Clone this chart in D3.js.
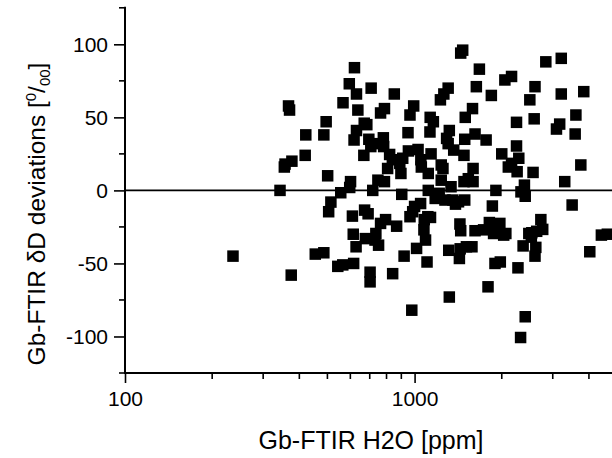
<!DOCTYPE html>
<html>
<head>
<meta charset="utf-8">
<script src="https://cdn.jsdelivr.net/npm/d3@7"></script>
<style>
  body { margin: 0; background: #fff; }
  svg { font-family: Arial, "Liberation Sans", sans-serif; }
</style>
</head>
<body>
<svg width="612" height="458"></svg>
<script>
// H2O [ppm] and deltaD deviation [permil]
const h2o = [236,343,367,370,375,355,357,377,419,421,454,486,495,486,501,514,505,543,565,566,
  556,597,595,620,630,637,601,610,614,628,616,618,630,670,684,668,672,691,695,676,
  702,702,708,717,747,735,751,763,787,780,782,787,794,807,820,840,851,867,897,903,
  889,920,949,952,964,993,978,964,1000,1016,1028,1051,1049,1077,1091,1104,1115,1080,1115,1132,
  1161,1130,1140,1135,1178,1216,1236,1236,1228,1262,1306,1290,1318,1336,1318,1312,1356,1365,1384,1443,
  1466,1443,1434,1428,1437,1481,1490,1496,1585,1592,1592,1481,1490,1578,1617,1634,1674,1617,1766,1841,
  1856,1793,1812,1909,1874,1895,1977,1970,2000,2050,2162,2066,2107,2162,2249,2249,2290,2260,2275,2323,
  2410,2330,2410,2395,2370,2500,2588,2605,2565,2480,2605,2622,2540,2729,2770,2839,3090,3170,3210,3210,
  3300,3500,3606,3585,3750,3839,4027,4416,4630,
  706,725,838,910,1055,1273,1418,1510,1731,1942,2031,2640,2530,1533,1111,985,1306,1253,763,730];
const dev = [-45,0,57.8,55,-58,16,18,20,24,38,-43.6,-42.7,47,38,10,-8,-14.6,-52,-51,60,
  -1.6,2,73,84,66,55,6,-17.6,-30,-38.6,-50,34.5,41,46,45,24,-13.5,-16,35,-33,
  -56,-62.6,70,0,7,-29.5,-37.5,53,56,36,30,6,-20,15,24.6,-57,66,-24.5,11.6,-2.7,
  18.5,-45,39.5,27,51.6,57.8,-82,-18,-11,-39.7,28,21,-9,-27,-34,-49,11.6,-20,0,50,
  47,40,25,-18.5,-5.5,-2,7,17.4,62,66,70,35.6,41,2.5,-73,-41,-6.6,27.6,-9.4,94,
  96,-27.6,-23,-46.6,-40,24,35,50,56,15,6,6,-6.6,-38.6,-27.6,71,83,38.6,34.5,65,
  -10.7,-66,-22,0,-29.5,-50,-49,-22.6,25,75.6,78,-29.5,16,18.5,46.6,30.4,22,12.8,-53,-100.7,
  -86.5,-1,-4,3.6,-38,62,49,71,12.3,-29.5,-45,-39,-29,-20,-26.7,88,42,45.4,90.4,66,
  6,-10,51.6,38.6,17.4,67.6,-42,-30.6,-30,
  30,32,21,22,16,-6.6,-7.8,-38.6,-27,-27,-30.6,-28,-32,8,-18,-14.6,32,15,-22.6,-34];

const xMajor = [100, 1000];
const xMinor = [200,300,400,500,600,700,800,900,2000,3000,4000];
const yMajor = [-100,-50,0,50,100];
const yMinor = [-125,-75,-25,25,75,125];

const data = h2o.map((v, i) => ({h2o: v, dev: dev[i]}));

const svg = d3.select("svg"),
      mLeft = 125, mRight = 617, mTop = 7.8, mBottom = 373;

const x = d3.scaleLog().domain([100, 5000]).range([mLeft, mRight]),
      y = d3.scaleLinear().domain([-125, 125]).range([mBottom, mTop]);

// zero line
svg.append("line")
    .attr("x1", mLeft).attr("x2", 612)
    .attr("y1", y(0)).attr("y2", y(0))
    .attr("stroke", "#000").attr("stroke-width", 1.6);

// points
const s = 11.5;
svg.selectAll(".pt")
  .data(data)
  .enter().append("rect")
    .attr("class", "pt")
    .attr("x", d => x(d.h2o) - s / 2)
    .attr("y", d => y(d.dev) - s / 2)
    .attr("width", s)
    .attr("height", s)
    .attr("fill", "#000");

// x axis
const gx = svg.append("g").attr("transform", `translate(0,${mBottom})`);
gx.call(d3.axisBottom(x).tickValues(xMajor).tickSize(10).tickPadding(8).tickFormat(d => String(d)));
gx.selectAll(".minor").data(xMinor).enter().append("line")
    .attr("class", "minor")
    .attr("x1", d => x(d)).attr("x2", d => x(d))
    .attr("y1", 0).attr("y2", 6)
    .attr("stroke", "#000").attr("stroke-width", 1.6);

// y axis
const gy = svg.append("g").attr("transform", `translate(${mLeft},0)`);
gy.call(d3.axisLeft(y).tickValues(yMajor).tickSize(11).tickPadding(6).tickFormat(d => String(d)));
gy.selectAll(".minor").data(yMinor).enter().append("line")
    .attr("class", "minor")
    .attr("x1", -6).attr("x2", 0)
    .attr("y1", d => y(d)).attr("y2", d => y(d))
    .attr("stroke", "#000").attr("stroke-width", 1.6);

gx.select(".domain").remove();
gy.select(".domain").remove();
svg.append("line").attr("x1", mLeft).attr("x2", 612).attr("y1", mBottom).attr("y2", mBottom)
    .attr("stroke", "#000").attr("stroke-width", 2);
svg.append("line").attr("x1", mLeft).attr("x2", mLeft).attr("y1", mTop - 1).attr("y2", mBottom + 1)
    .attr("stroke", "#000").attr("stroke-width", 2);

svg.selectAll(".tick line").attr("stroke-width", 1.6);
svg.selectAll(".tick text")
    .style("font-size", "21px")
    .style("font-family", "Arial, 'Liberation Sans', sans-serif")
    .attr("fill", "#000");

// axis titles
svg.append("text")
    .attr("x", 371).attr("y", 449)
    .attr("text-anchor", "middle")
    .style("font-size", "25px")
    .text("Gb-FTIR H2O [ppm]");

const yt = svg.append("text")
    .attr("transform", "translate(45,214) rotate(-90)")
    .attr("text-anchor", "middle")
    .style("font-size", "24.5px");
yt.append("tspan").text("Gb-FTIR \u03b4D deviations [");
yt.append("tspan").attr("dy", -9).style("font-size", "15px").text("0");
yt.append("tspan").attr("dy", 9).text("/");
yt.append("tspan").attr("dy", 5).style("font-size", "15px").text("00");
yt.append("tspan").attr("dy", -5).text("]");
</script>
</body>
</html>
